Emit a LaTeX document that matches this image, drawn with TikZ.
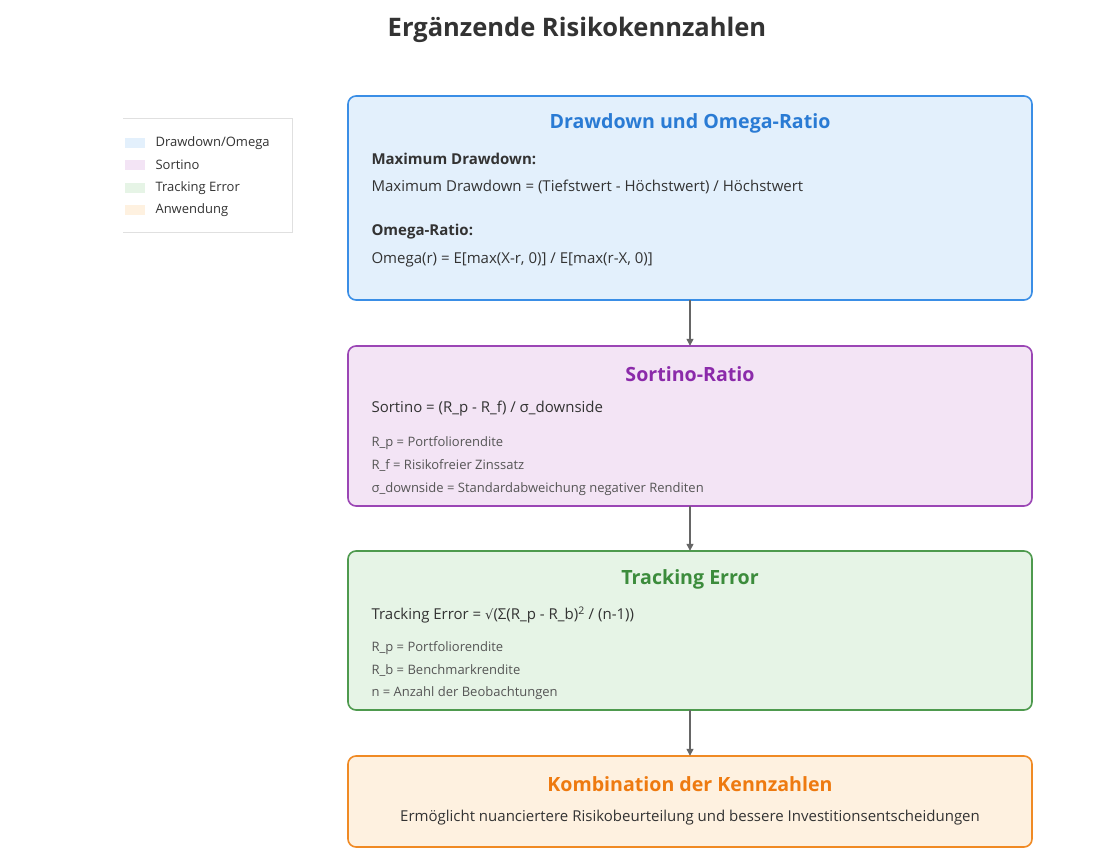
\documentclass[tikz,border=0pt]{standalone}
\usepackage{fontspec}
\setmainfont{Open Sans}
\newfontfamily\symf{DejaVu Sans}
\usetikzlibrary{arrows.meta}
\definecolor{bA}{HTML}{E3F0FC}\definecolor{dA}{HTML}{3A8EE6}\definecolor{tA}{HTML}{2A7BD4}
\definecolor{bB}{HTML}{F3E4F5}\definecolor{dB}{HTML}{9B46B5}\definecolor{tB}{HTML}{8B2AAA}
\definecolor{bC}{HTML}{E6F4E6}\definecolor{dC}{HTML}{4E9A4E}\definecolor{tC}{HTML}{3C8C3C}
\definecolor{bD}{HTML}{FEF1E0}\definecolor{dD}{HTML}{F08A24}\definecolor{tD}{HTML}{EE7A10}
\definecolor{txt}{HTML}{333333}\definecolor{sm}{HTML}{555555}
\tikzset{
  card/.style={rounded corners=8pt, line width=1.6pt},
  ttl/.style={font=\fontsize{19.6}{22}\selectfont\bfseries, anchor=center},
  body/.style={font=\fontsize{15}{18}\selectfont, text=txt, anchor=west},
  bodyb/.style={font=\fontsize{15}{18}\selectfont\bfseries, text=txt, anchor=west},
  small/.style={font=\fontsize{13}{15}\selectfont, text=sm, anchor=west},
  leg/.style={font=\fontsize{13}{15}\selectfont, text=txt, anchor=west},
  conn/.style={-{Triangle[length=7pt,width=7pt]}, line width=1.3pt, draw=black!60}
}
\begin{document}
\begin{tikzpicture}[x=1pt,y=-1pt]
\useasboundingbox[fill=white] (0,0) rectangle (1100,850);
\node[font=\fontsize{25.5}{30}\selectfont\bfseries, text=txt] (title) at (577,30) {Ergänzende Risikokennzahlen};
% legend
\draw[black!12] (123,118) -- (292,118) -- (292,232) -- (123,232);
\node[fill=bA, minimum width=20pt, minimum height=10pt, inner sep=0] (l1) at (135,143) {};
\node[fill=bB, minimum width=20pt, minimum height=10pt, inner sep=0] (l2) at (135,165) {};
\node[fill=bC, minimum width=20pt, minimum height=10pt, inner sep=0] (l3) at (135,188) {};
\node[fill=bD, minimum width=20pt, minimum height=10pt, inner sep=0] (l4) at (135,210) {};
\node[leg] at (152,143) {Drawdown/Omega};
\node[leg] at (152,165) {Sortino};
\node[leg] at (152,188) {Tracking Error};
\node[leg] at (152,210) {Anwendung};
% boxes
\draw[card, fill=bA, draw=dA] (348,96) rectangle (1032,300);
\node (Abox) [inner sep=0, minimum width=684pt, minimum height=204pt] at (690,198) {};
\node[ttl, text=tA] at (690,123) {Drawdown und Omega-Ratio};
\node[bodyb] at (368,159) {Maximum Drawdown:};
\node[body] at (368,187) {Maximum Drawdown = (Tiefstwert - Höchstwert) / Höchstwert};
\node[bodyb] at (368,232) {Omega-Ratio:};
\node[body] at (368,260) {Omega(r) = E[max(X-r, 0)] / E[max(r-X, 0)]};

\draw[card, fill=bB, draw=dB] (348,346) rectangle (1032,506);
\node (Bbox) [inner sep=0, minimum width=684pt, minimum height=160pt] at (690,426) {};
\node[ttl, text=tB] at (690,374) {Sortino-Ratio};
\node[body] at (368,409) {Sortino = (R\_p - R\_f) / σ\_downside};
\node[small] at (368,443) {R\_p = Portfoliorendite};
\node[small] at (368,466) {R\_f = Risikofreier Zinssatz};
\node[small] at (368,489) {σ\_downside = Standardabweichung negativer Renditen};

\draw[card, fill=bC, draw=dC] (348,551) rectangle (1032,710);
\node (Cbox) [inner sep=0, minimum width=684pt, minimum height=159pt] at (690,630.5) {};
\node[ttl, text=tC] at (690,579) {Tracking Error};
\node[body] at (368,615) {Tracking Error = {\symf\fontsize{13}{15}\selectfont √}(Σ(R\_p - R\_b)\textsuperscript{2} / (n-1))};
\node[small] at (368,648) {R\_p = Portfoliorendite};
\node[small] at (368,671) {R\_b = Benchmarkrendite};
\node[small] at (368,693) {n = Anzahl der Beobachtungen};

\draw[card, fill=bD, draw=dD] (348,756) rectangle (1032,847);
\node (Dbox) [inner sep=0, minimum width=684pt, minimum height=91pt] at (690,801.5) {};
\node[ttl, text=tD] at (690,784) {Kombination der Kennzahlen};
\node[body, anchor=center] at (690,818) {Ermöglicht nuanciertere Risikobeurteilung und bessere Investitionsentscheidungen};

\draw[conn] (Abox.south) -- (Bbox.north);
\draw[conn] (Bbox.south) -- (Cbox.north);
\draw[conn] (Cbox.south) -- (Dbox.north);
\end{tikzpicture}
\end{document}
